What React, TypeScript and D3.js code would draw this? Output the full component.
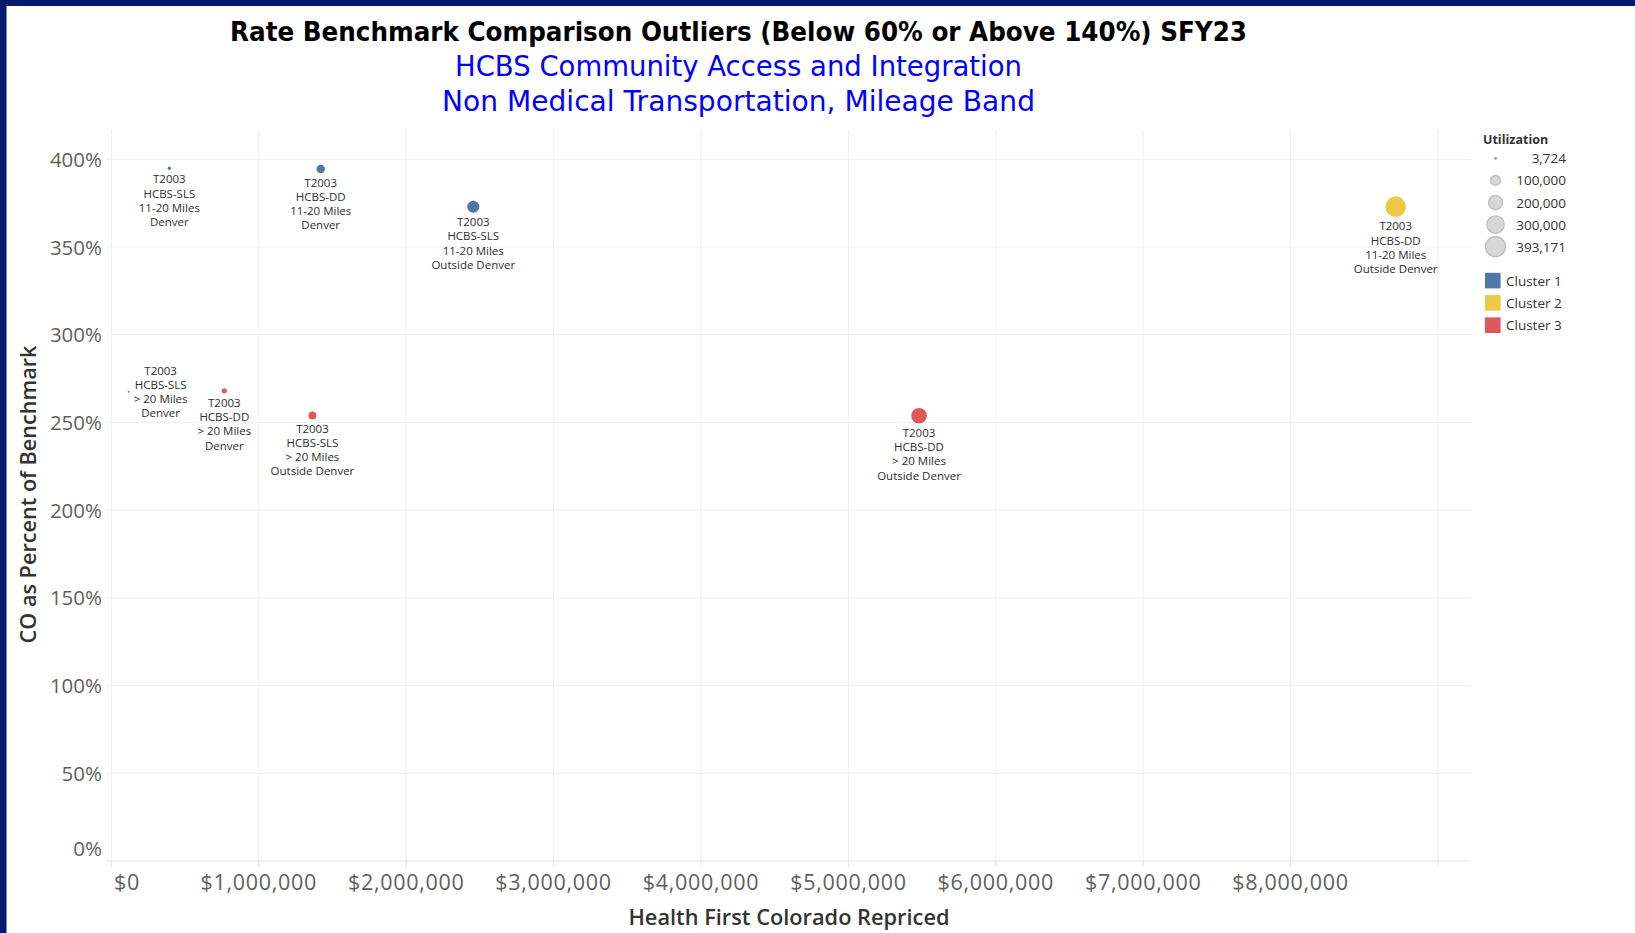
import React, { useEffect } from 'react';
import * as d3 from 'd3';

// ---------------- DATA ----------------
const procedureCodes = ['T2003', 'T2003', 'T2003', 'T2003', 'T2003', 'T2003', 'T2003', 'T2003'];
const programs = ['HCBS-SLS', 'HCBS-DD', 'HCBS-SLS', 'HCBS-SLS', 'HCBS-DD', 'HCBS-SLS', 'HCBS-DD', 'HCBS-DD'];
const mileageBands = ['11-20 Miles', '11-20 Miles', '11-20 Miles', '> 20 Miles', '> 20 Miles', '> 20 Miles', '> 20 Miles', '11-20 Miles'];
const regions = ['Denver', 'Denver', 'Outside Denver', 'Denver', 'Denver', 'Outside Denver', 'Outside Denver', 'Outside Denver'];
const repriced = [393000, 1420000, 2455000, 117000, 766000, 1364000, 5479000, 8713000];
const pctOfBenchmark = [394.9, 394.5, 373.0, 267.5, 268.0, 254.0, 253.8, 373.0];
const utilization = [10000, 66000, 135000, 3724, 25000, 57000, 225000, 393171];
const clusterOf = [1, 1, 1, 3, 3, 3, 3, 2];

const xTickValues = [0, 1000000, 2000000, 3000000, 4000000, 5000000, 6000000, 7000000, 8000000, 9000000];
const xTickLabelValues = [0, 1000000, 2000000, 3000000, 4000000, 5000000, 6000000, 7000000, 8000000];
const yTickValues = [0, 50, 100, 150, 200, 250, 300, 350, 400];
const sizeLegendValues = [3724, 100000, 200000, 300000, 393171];
const clusterNames = ['Cluster 1', 'Cluster 2', 'Cluster 3'];
const clusterColors = ['#4e79a7', '#edc948', '#e15759'];

const titleText = 'Rate Benchmark Comparison Outliers (Below 60% or Above 140%) SFY23';
const subtitle1 = 'HCBS Community Access and Integration';
const subtitle2 = 'Non Medical Transportation, Mileage Band';
const xAxisTitle = 'Health First Colorado Repriced';
const yAxisTitle = 'CO as Percent of Benchmark';
const sizeLegendTitle = 'Utilization';

// labels placed to the right of the mark (collision avoidance in original)
const rightLabelIdx = new Set([3]);

// ---------------- LAYOUT ----------------
const W = 1635;
const H = 933;
const FONT = "'Open Sans', 'Noto Sans', sans-serif";
const TITLE_FONT = "'DejaVu Sans', Verdana, sans-serif";

const xScale = d3.scaleLinear().domain([0, 9000000]).range([111.4, 1438]);
const yScale = d3.scaleLinear().domain([0, 400]).range([861, 159.3]);
const rScale = d3.scaleSqrt().domain([0, 393171]).range([0, 10.3]);
const colorScale = d3.scaleOrdinal<number, string>().domain([1, 2, 3]).range(clusterColors);

const plotLeft = xScale(-37000);
const plotRight = xScale(9226000);
const plotTop = yScale(416.7);
const plotBottom = yScale(0);

const fmtDollar = d3.format('$,.0f');
const fmtPct = (v: number) => `${v}%`;
const fmtInt = d3.format(',');

export default function App() {
  useEffect(() => {
    document.body.style.margin = '0';
    document.body.style.overflow = 'hidden';
  }, []);

  const points = repriced.map((x, i) => ({
    i,
    x,
    y: pctOfBenchmark[i],
    r: rScale(utilization[i]),
    color: colorScale(clusterOf[i]),
    lines: [procedureCodes[i], programs[i], mileageBands[i], regions[i]],
  }));

  const labelFs = 11.5;
  const lineH = 14.2;

  return (
    <svg width={W} height={H} style={{ position: 'absolute', left: 0, top: 0, background: '#fff' }} fontFamily={FONT}>
      <rect x={0} y={0} width={W} height={H} fill="#fff" />
      {/* frame */}
      <rect x={0} y={0} width={W} height={6} fill="#021b6e" />
      <rect x={0} y={0} width={6.5} height={H} fill="#021b6e" />

      {/* titles */}
      <g fontFamily={TITLE_FONT}>
        <text x={738.5} y={40.5} textAnchor="middle" fontSize={27} fontWeight={700} fill="#000" textLength={1017} lengthAdjust="spacingAndGlyphs">{titleText}</text>
        <text x={738.5} y={76} textAnchor="middle" fontSize={29} fontWeight={400} fill="#0000ff" textLength={567} lengthAdjust="spacingAndGlyphs">{subtitle1}</text>
        <text x={738.5} y={110.5} textAnchor="middle" fontSize={29} fontWeight={400} fill="#0000ff" textLength={593} lengthAdjust="spacingAndGlyphs">{subtitle2}</text>
      </g>

      {/* gridlines */}
      <g>
        {yTickValues.filter((v) => v > 0).map((v) => (
          <line key={'hy' + v} x1={plotLeft} x2={plotRight} y1={yScale(v)} y2={yScale(v)} stroke="#efefef" strokeWidth={1} />
        ))}
        {xTickValues.map((v) => (
          <line key={'vx' + v} x1={xScale(v)} x2={xScale(v)} y1={plotTop} y2={plotBottom} stroke="#efefef" strokeWidth={1} />
        ))}
        <line x1={plotLeft} x2={plotRight} y1={plotBottom} y2={plotBottom} stroke="#e2e2e2" strokeWidth={1} />
        {xTickValues.map((v) => (
          <line key={'tk' + v} x1={xScale(v)} x2={xScale(v)} y1={plotBottom} y2={plotBottom + 6} stroke="#e2e2e2" strokeWidth={1} />
        ))}
      </g>

      {/* y tick labels */}
      <g fontSize={20.5} fill="#5f5f5f">
        {yTickValues.map((v) => (
          <text key={'yl' + v} x={102} y={v === 0 ? 856 : yScale(v) + 7.6} textAnchor="end">{fmtPct(v)}</text>
        ))}
      </g>
      {/* x tick labels */}
      <g fontSize={21.5} fill="#5f5f5f" letterSpacing={0.7}>
        {xTickLabelValues.map((v) => (
          <text key={'xl' + v} x={v === 0 ? xScale(v) + 2.5 : xScale(v)} y={890} textAnchor={v === 0 ? 'start' : 'middle'}>{fmtDollar(v)}</text>
        ))}
      </g>

      {/* axis titles */}
      <text x={789} y={925} textAnchor="middle" fontSize={21} fontWeight={600} fill="#333" textLength={321} lengthAdjust="spacingAndGlyphs">{xAxisTitle}</text>
      <text transform={`translate(36,494.5) rotate(-90)`} textAnchor="middle" fontSize={21} fontWeight={600} fill="#333" textLength={298} lengthAdjust="spacingAndGlyphs">{yAxisTitle}</text>

      {/* marks */}
      <g>
        {points.map((p) => (
          <circle key={'pt' + p.i} cx={xScale(p.x)} cy={yScale(p.y)} r={p.r} fill={p.color} />
        ))}
      </g>

      {/* mark labels */}
      <g fontSize={labelFs} fill="#2e2e2e" textAnchor="middle">
        {points.map((p) => {
          const cx = xScale(p.x);
          const cy = yScale(p.y);
          let lx = cx;
          let firstCenter = cy + p.r + 9.3;
          if (rightLabelIdx.has(p.i)) {
            lx = cx + p.r + 31;
            firstCenter = cy - 1.5 * lineH;
          }
          return (
            <g key={'lb' + p.i}>
              {p.lines.map((t, k) => (
                <text key={k} x={lx} y={firstCenter + k * lineH + 4.2}>{t}</text>
              ))}
            </g>
          );
        })}
      </g>

      {/* size legend */}
      <g>
        <text x={1483} y={144} fontSize={12.5} fontWeight={700} fill="#333">{sizeLegendTitle}</text>
        {sizeLegendValues.map((v, k) => {
          const cy = 158.3 + k * 22.1;
          return (
            <g key={'sl' + v}>
              <circle cx={1495.5} cy={cy} r={k === 0 ? 1.6 : rScale(v) - 0.3} fill={k === 0 ? '#a8a8a8' : '#d7d7d7'} stroke={k === 0 ? 'none' : '#bdbdbd'} strokeWidth={1.3} />
              <text x={1566} y={cy + 5} textAnchor="end" fontSize={13.5} fill="#333">{fmtInt(v)}</text>
            </g>
          );
        })}
      </g>

      {/* color legend */}
      <g>
        {clusterNames.map((n, k) => {
          const cy = 280.6 + k * 22.3;
          return (
            <g key={n}>
              <rect x={1485} y={cy - 7.8} width={15.6} height={15.6} fill={clusterColors[k]} />
              <text x={1506} y={cy + 5} fontSize={13.5} fill="#333">{n}</text>
            </g>
          );
        })}
      </g>
    </svg>
  );
}
